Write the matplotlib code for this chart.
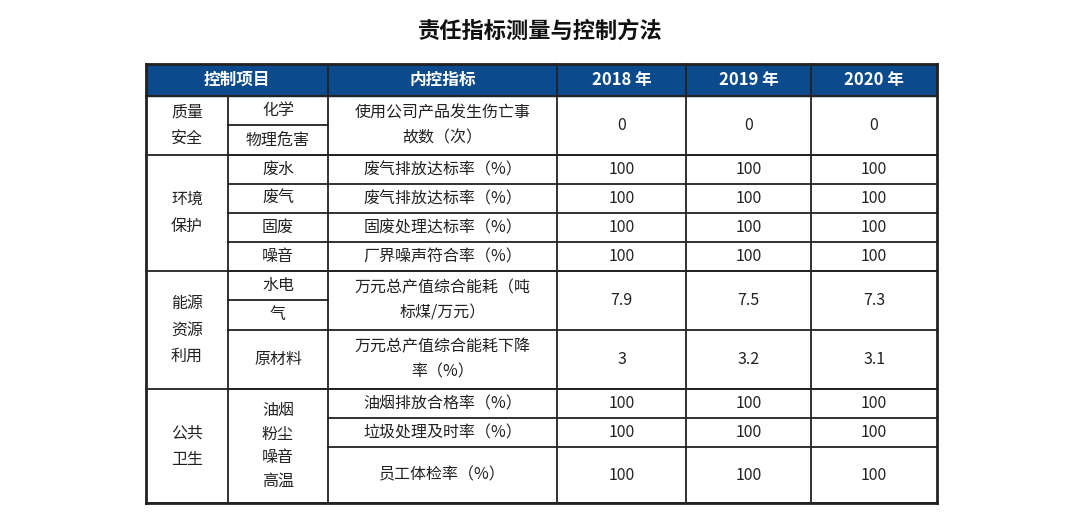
import matplotlib
matplotlib.use("Agg")
import matplotlib.pyplot as plt

plt.rcParams['font.family'] = ['Noto Sans CJK SC', 'DejaVu Sans']

title = "责任指标测量与控制方法"
headers = ["控制项目", "内控指标", "2018 年", "2019 年", "2020 年"]
categories = ["质量\n安全", "环境\n保护", "能源\n资源\n利用", "公共\n卫生"]
subitems = [["化学", "物理危害"], ["废水", "废气", "固废", "噪音"],
            ["水电", "气", "原材料"], ["油烟\n粉尘\n噪音\n高温"]]
indicators = ["使用公司产品发生伤亡事\n故数（次）", "废气排放达标率（%）", "废气排放达标率（%）",
              "固废处理达标率（%）", "厂界噪声符合率（%）", "万元总产值综合能耗（吨\n标煤/万元）",
              "万元总产值综合能耗下降\n率（%）", "油烟排放合格率（%）", "垃圾处理及时率（%）",
              "员工体检率（%）"]
v2018 = ["0", "100", "100", "100", "100", "7.9", "3", "100", "100", "100"]
v2019 = ["0", "100", "100", "100", "100", "7.5", "3.2", "100", "100", "100"]
v2020 = ["0", "100", "100", "100", "100", "7.3", "3.1", "100", "100", "100"]

# layout (pixels)
X = [146, 228, 328, 557, 686, 811, 937]
Ytop, Yhead = 64, 96
cat_rows = [(96, 155), (155, 271), (271, 389), (389, 503)]
sub_rows = [[(96, 125), (125, 155)], [(155, 184), (184, 213), (213, 242), (242, 271)],
            [(271, 300), (300, 330), (330, 389)], [(389, 503)]]
ind_rows = [(96, 155), (155, 184), (184, 213), (213, 242), (242, 271), (271, 330),
            (330, 389), (389, 418), (418, 447), (447, 503)]

fig = plt.figure(figsize=(10.8, 5.18), dpi=100)
ax = fig.add_axes([0, 0, 1, 1])
ax.set_xlim(0, 1080); ax.set_ylim(518, 0); ax.axis('off')

ax.add_patch(plt.Rectangle((X[0], Ytop), X[-1]-X[0], Yhead-Ytop, color='#0b4a8c', zorder=0))
ax.text(540, 31, title, ha='center', va='center', fontsize=16, fontweight='bold', color='#111111')

hx = [(X[0]+X[2])/2, (X[2]+X[3])/2, (X[3]+X[4])/2, (X[4]+X[5])/2, (X[5]+X[6])/2]
for x, h in zip(hx, headers):
    ax.text(x, (Ytop+Yhead)/2, h, ha='center', va='center', color='white', fontsize=12, fontweight='bold')

lc = '#222222'; fs = 11.5; tc = '#222222'
def hline(y, x0, x1, lw=1.3): ax.plot([x0, x1], [y, y], color=lc, lw=lw, solid_capstyle='projecting')
def vline(x, y0, y1, lw=1.3): ax.plot([x, x], [y0, y1], color=lc, lw=lw, solid_capstyle='projecting')

for c, (y0, y1) in zip(categories, cat_rows):
    ax.text((X[0]+X[1])/2, (y0+y1)/2, c, ha='center', va='center', fontsize=fs, color=tc, linespacing=1.75)
    hline(y1, X[0], X[-1])
for subs, rows in zip(subitems, sub_rows):
    for s, (y0, y1) in zip(subs, rows):
        ax.text((X[1]+X[2])/2, (y0+y1)/2, s, ha='center', va='center', fontsize=fs, color=tc, linespacing=1.5)
        hline(y1, X[1], X[2])
for i, (y0, y1) in enumerate(ind_rows):
    yc = (y0+y1)/2
    ax.text((X[2]+X[3])/2, yc, indicators[i], ha='center', va='center', fontsize=fs, color=tc, linespacing=1.6)
    for j, vals in enumerate([v2018, v2019, v2020]):
        ax.text((X[3+j]+X[4+j])/2, yc, vals[i], ha='center', va='center', fontsize=fs, color=tc)
    hline(y1, X[2], X[-1])

hline(Ytop, X[0], X[-1], 2); hline(Yhead, X[0], X[-1], 1.5); hline(503, X[0], X[-1], 2)
vline(X[0], Ytop, 503, 2); vline(X[-1], Ytop, 503, 2)
vline(X[1], Yhead, 503)
for x in X[2:-1]:
    vline(x, Ytop, 503)

fig.savefig("out.png", dpi=100, facecolor='white')
